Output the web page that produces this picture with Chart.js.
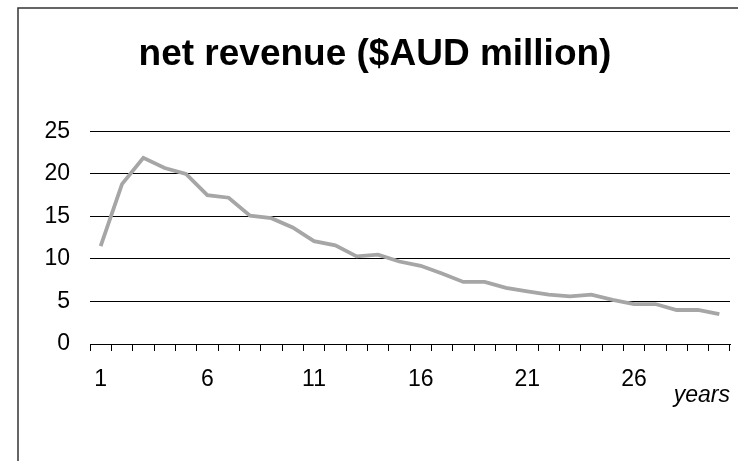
<!DOCTYPE html>
<html>
<head>
<meta charset="utf-8">
<title>net revenue</title>
<script src="https://cdn.jsdelivr.net/npm/chart.js@4/dist/chart.umd.min.js"></script>
<style>
  html, body { margin: 0; padding: 0; background: #fff; }
  canvas { display: block; }
</style>
</head>
<body>
<canvas id="chart" width="738" height="461"></canvas>
<script>
const years = [
  1, 2, 3, 4, 5, 6, 7, 8, 9, 10,
  11, 12, 13, 14, 15, 16, 17, 18, 19, 20,
  21, 22, 23, 24, 25, 26, 27, 28, 29, 30,
];
const netRevenue = [
  11.5, 18.8, 21.9, 20.7, 20.0, 17.5, 17.2, 15.1, 14.8, 13.7,
  12.1, 11.6, 10.3, 10.5, 9.7, 9.2, 8.3, 7.3, 7.3, 6.6,
  6.2, 5.8, 5.6, 5.8, 5.2, 4.7, 4.7, 4.0, 4.0, 3.5,
];
const labelEvery = 5;

const FONT = "'Liberation Sans', Arial, sans-serif";

// thin frame round the chart, open at right and bottom
const frame = {
  id: "frame",
  beforeDraw(chart) {
    const ctx = chart.ctx;
    ctx.save();
    ctx.strokeStyle = "#333";
    ctx.lineWidth = 1.5;
    ctx.beginPath();
    ctx.moveTo(18, chart.height + 2);
    ctx.lineTo(18, 8);
    ctx.lineTo(chart.width + 2, 8);
    ctx.stroke();
    ctx.restore();
  },
};

new Chart(document.getElementById("chart"), {
  type: "line",
  data: {
    labels: years,
    datasets: [
      {
        label: "net revenue",
        data: netRevenue,
        borderColor: "#a6a6a6",
        borderWidth: 3.8,
        pointRadius: 0,
        tension: 0,
      },
    ],
  },
  options: {
    responsive: false,
    animation: false,
    layout: {
      padding: { top: 8, left: 20, right: 8, bottom: 0 },
    },
    plugins: {
      legend: { display: false },
      tooltip: { enabled: false },
      title: {
        display: true,
        text: "net revenue ($AUD million)",
        color: "#000",
        font: { family: FONT, size: 37, weight: "bold" },
        padding: { top: 25, bottom: 54 },
      },
    },
    scales: {
      x: {
        offset: true,
        grid: {
          offset: true,
          drawOnChartArea: false,
          drawTicks: true,
          tickLength: 7,
          color: "#000",
        },
        border: { display: true, color: "#000", width: 1 },
        ticks: {
          autoSkip: false,
          maxRotation: 0,
          padding: 15,
          color: "#000",
          font: { family: FONT, size: 23 },
          callback: function (value, index) {
            return index % labelEvery === 0 ? this.getLabelForValue(value) : "";
          },
        },
        title: {
          display: true,
          text: "years",
          align: "end",
          color: "#000",
          font: { family: FONT, size: 23, style: "italic" },
          padding: { top: 0, bottom: 52 },
        },
        afterFit: (scale) => {
          scale.height = 117;
        },
      },
      y: {
        min: 0,
        max: 25,
        grid: {
          drawTicks: false,
          color: "#000",
          lineWidth: 1,
        },
        border: { display: false },
        ticks: {
          stepSize: 5,
          padding: 20,
          color: "#000",
          font: { family: FONT, size: 23 },
        },
        afterFit: (scale) => {
          scale.width = 70;
        },
      },
    },
  },
  plugins: [frame],
});
</script>
</body>
</html>
